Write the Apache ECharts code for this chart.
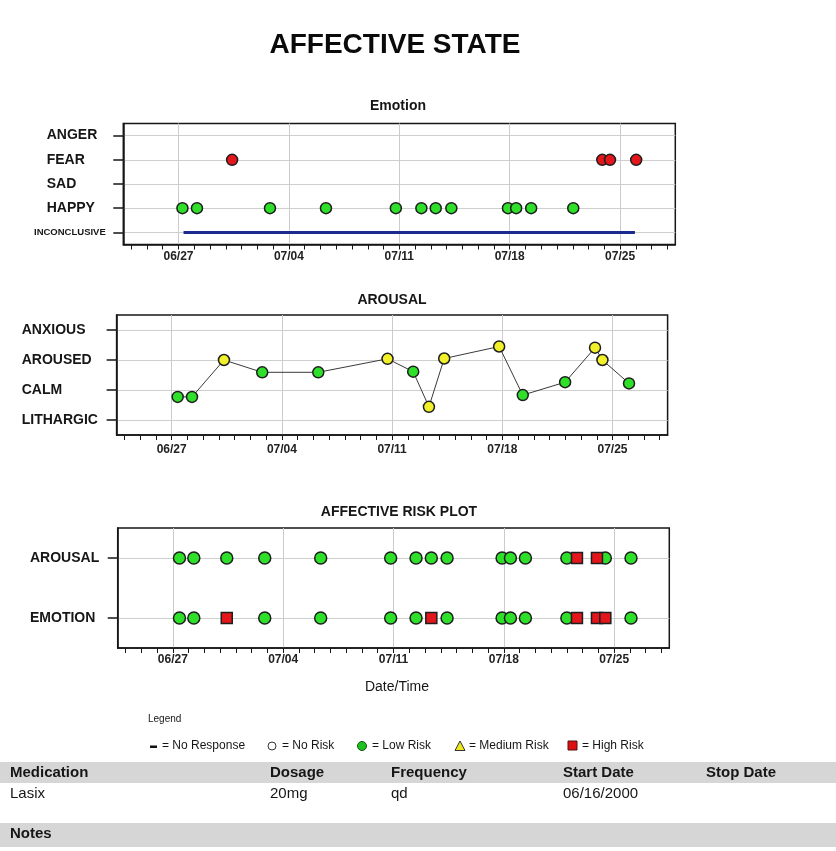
<!DOCTYPE html>
<html><head><meta charset="utf-8">
<script src="https://cdn.jsdelivr.net/npm/echarts@6/dist/echarts.min.js"></script>
<style>html,body{margin:0;padding:0;background:#fff}#c{width:836px;height:851px}</style>
</head><body><div id="c"></div>
<script>
// x values are days after 06/27/2000 (0 = 06/27)
const tickDays = [0, 7, 14, 21, 28];
const tickLabels = ['06/27', '07/04', '07/11', '07/18', '07/25'];

// Emotion chart
const emotionLevels = ['INCONCLUSIVE', 'HAPPY', 'SAD', 'FEAR', 'ANGER'];
const emotionDays = [0.25, 1.17, 3.40, 5.80, 9.35, 13.78, 15.40, 16.31, 17.30, 20.89, 21.41, 22.36, 25.03, 26.87, 27.36, 29.02];
const emotionStates = ['HAPPY', 'HAPPY', 'FEAR', 'HAPPY', 'HAPPY', 'HAPPY', 'HAPPY', 'HAPPY', 'HAPPY', 'HAPPY', 'HAPPY', 'HAPPY', 'HAPPY', 'FEAR', 'FEAR', 'FEAR'];
const emotionRisk = ['Low', 'Low', 'High', 'Low', 'Low', 'Low', 'Low', 'Low', 'Low', 'Low', 'Low', 'Low', 'Low', 'High', 'High', 'High'];
const inconclusiveSpan = [0.32, 28.94];

// Arousal chart (1 = LITHARGIC ... 4 = ANXIOUS)
const arousalLevels = ['LITHARGIC', 'CALM', 'AROUSED', 'ANXIOUS'];
const arousalDays = [0.38, 1.29, 3.32, 5.75, 9.31, 13.71, 15.34, 16.34, 17.31, 20.80, 22.30, 24.99, 26.89, 27.36, 29.05];
const arousalValues = [1.77, 1.77, 3.00, 2.59, 2.59, 3.04, 2.61, 1.44, 3.05, 3.45, 1.83, 2.26, 3.41, 3.00, 2.22];
const arousalRisk = ['Low', 'Low', 'Medium', 'Low', 'Low', 'Medium', 'Low', 'Medium', 'Medium', 'Medium', 'Low', 'Low', 'Medium', 'Medium', 'Low'];

// Affective risk plot
const riskRows = ['EMOTION', 'AROUSAL'];
const riskDays = [0.42, 1.33, 3.42, 5.83, 9.38, 13.82, 15.43, 16.40, 17.40, 20.89, 21.42, 22.37, 25.00, 25.64, 26.91, 27.44, 29.07];
const riskArousal = ['Low', 'Low', 'Low', 'Low', 'Low', 'Low', 'Low', 'Low', 'Low', 'Low', 'Low', 'Low', 'Low', 'High', 'High', 'Low', 'Low'];
const riskEmotion = ['Low', 'Low', 'High', 'Low', 'Low', 'Low', 'Low', 'High', 'Low', 'Low', 'Low', 'Low', 'Low', 'High', 'High', 'High', 'Low'];

const riskColor = { Low: '#2fe02a', Medium: '#f2f02a', High: '#e3161b' };
const FONT = '"Liberation Sans", Arial, Helvetica, sans-serif';
const INK = '#161616';
const dayTicks = [];
for (let d = -3; d <= 31; d++) dayTicks.push(d);

function xAxes(gi, margin) {
  return [
    { type: 'value', gridIndex: gi, min: -3.5, max: 31.5, position: 'bottom',
      axisLine: { show: true, onZero: false, lineStyle: { color: INK, width: 1.5 } },
      axisTick: { show: true, length: 5, customValues: dayTicks, lineStyle: { color: INK, width: 1 } },
      axisLabel: { customValues: tickDays, margin: margin, fontFamily: FONT, fontSize: 12, fontWeight: 'bold', color: '#222',
        formatter: v => { const i = tickDays.indexOf(v); return i >= 0 ? tickLabels[i] : ''; } },
      splitLine: { show: false } },
    { type: 'value', gridIndex: gi, min: -3.5, max: 31.5, position: 'top',
      axisLine: { show: false, onZero: false },
      axisTick: { show: false, customValues: tickDays },
      axisLabel: { show: false, customValues: tickDays },
      splitLine: { show: true, lineStyle: { color: '#cbcbd4', width: 1 } } }
  ];
}

function yAxis(gi, min, max, vals, names, margin, rich, fmt) {
  return { type: 'value', gridIndex: gi, min: min, max: max, position: 'left',
    axisLine: { show: true, onZero: false, lineStyle: { color: INK, width: 1.5 } },
    axisTick: { show: true, length: 10, customValues: vals, lineStyle: { color: INK, width: 1.5 } },
    axisLabel: { customValues: vals, align: 'left', margin: margin, fontFamily: FONT, fontSize: 14, fontWeight: 'bold', color: INK,
      rich: rich, formatter: fmt || (v => names[vals.indexOf(v)]) },
    splitLine: { show: true, lineStyle: { color: '#cfcfcf', width: 1 } } };
}

const emoVals = [0, 1, 2, 3, 4];
const aroVals = [1, 2, 3, 4];
const riskVals = [0, 1];

const chart = echarts.init(document.getElementById('c'), null, { renderer: 'canvas' });

const txt = (x, y, text, font, align, fill) => ({ type: 'text', x: x, y: y, silent: true,
  style: { text: text, font: font, fill: fill || INK, textAlign: align || 'left', textVerticalAlign: 'middle' } });

const option = {
  animation: false,
  backgroundColor: '#ffffff',
  grid: [
    { left: 123.3, top: 123.5, width: 552, height: 121, show: true, borderColor: INK, borderWidth: 1.5, backgroundColor: '#fff', outerBoundsMode: 'none' },
    { left: 116.6, top: 315, width: 551, height: 120, show: true, borderColor: INK, borderWidth: 1.5, backgroundColor: '#fff', outerBoundsMode: 'none' },
    { left: 117.7, top: 528, width: 551.6, height: 120, show: true, borderColor: INK, borderWidth: 1.5, backgroundColor: '#fff', outerBoundsMode: 'none' }
  ],
  xAxis: [].concat(xAxes(0, 6), xAxes(1, 9), xAxes(2, 6)),
  yAxis: [
    yAxis(0, -0.5, 4.5, emoVals, emotionLevels, 89.3,
      { s: { fontFamily: FONT, fontSize: 9.5, fontWeight: 'bold', color: INK },
        p: { fontFamily: FONT, fontSize: 14, width: 12.7 },
        b: { fontFamily: FONT, fontSize: 14, fontWeight: 'bold', color: INK } },
      v => v === 0 ? '{s|' + emotionLevels[0] + '}' : '{p| }{b|' + emotionLevels[v] + '}'),
    yAxis(1, 0.5, 4.5, aroVals, arousalLevels, 94.9),
    yAxis(2, -0.5, 1.5, riskVals, riskRows, 87.7)
  ],
  series: [
    { type: 'line', xAxisIndex: 0, yAxisIndex: 0, silent: true, showSymbol: false, z: 2,
      lineStyle: { color: '#1b2a8f', width: 3 },
      data: [[inconclusiveSpan[0], 0], [inconclusiveSpan[1], 0]] },
    { type: 'scatter', xAxisIndex: 0, yAxisIndex: 0, symbol: 'circle', symbolSize: 11, z: 3,
      itemStyle: { borderColor: '#1e1e1e', borderWidth: 1.5, opacity: 1 },
      data: emotionDays.map((d, i) => ({ value: [d, emotionLevels.indexOf(emotionStates[i])], itemStyle: { color: riskColor[emotionRisk[i]] } })) },
    { type: 'line', xAxisIndex: 2, yAxisIndex: 1, silent: true, showSymbol: false, z: 2,
      lineStyle: { color: '#3a3a3a', width: 1 },
      data: arousalDays.map((d, i) => [d, arousalValues[i]]) },
    { type: 'scatter', xAxisIndex: 2, yAxisIndex: 1, symbol: 'circle', symbolSize: 11, z: 3,
      itemStyle: { borderColor: '#1e1e1e', borderWidth: 1.5, opacity: 1 },
      data: arousalDays.map((d, i) => ({ value: [d, arousalValues[i]], itemStyle: { color: riskColor[arousalRisk[i]] } })) },
    { type: 'scatter', xAxisIndex: 4, yAxisIndex: 2, symbol: 'circle', symbolSize: 12, z: 3,
      itemStyle: { color: riskColor.Low, borderColor: '#1e1e1e', borderWidth: 1.5, opacity: 1 },
      data: [].concat(
        riskDays.filter((d, i) => riskArousal[i] === 'Low').map(d => [d, 1]),
        riskDays.filter((d, i) => riskEmotion[i] === 'Low').map(d => [d, 0])) },
    { type: 'scatter', xAxisIndex: 4, yAxisIndex: 2, symbol: 'rect', symbolSize: 11, z: 4,
      itemStyle: { color: riskColor.High, borderColor: '#1e1e1e', borderWidth: 1.5, opacity: 1 },
      data: [].concat(
        riskDays.filter((d, i) => riskArousal[i] === 'High').map(d => [d, 1]),
        riskDays.filter((d, i) => riskEmotion[i] === 'High').map(d => [d, 0])) }
  ],
  graphic: [
    txt(395, 45, 'AFFECTIVE STATE', 'bold 28px ' + FONT, 'center', '#0a0a0a'),
    txt(398, 106, 'Emotion', 'bold 14px ' + FONT, 'center'),
    txt(392, 300, 'AROUSAL', 'bold 14px ' + FONT, 'center'),
    txt(399, 512, 'AFFECTIVE RISK PLOT', 'bold 14px ' + FONT, 'center'),
    txt(397, 687, 'Date/Time', '14px ' + FONT, 'center'),
    // legend
    txt(148, 719, 'Legend', '10px ' + FONT, 'left'),
    { type: 'rect', silent: true, shape: { x: 150, y: 745.5, width: 7, height: 2.5 }, style: { fill: '#111' } },
    txt(162, 746, '= No Response', '12px ' + FONT, 'left'),
    { type: 'circle', silent: true, shape: { cx: 272, cy: 746, r: 4 }, style: { fill: '#fff', stroke: '#333', lineWidth: 1 } },
    txt(282, 746, '= No Risk', '12px ' + FONT, 'left'),
    { type: 'circle', silent: true, shape: { cx: 362, cy: 746, r: 4.5 }, style: { fill: '#1ec21e', stroke: '#145214', lineWidth: 1 } },
    txt(372, 746, '= Low Risk', '12px ' + FONT, 'left'),
    { type: 'polygon', silent: true, shape: { points: [[455, 750.5], [465, 750.5], [460, 741]] }, style: { fill: '#f0e81e', stroke: '#333', lineWidth: 1 } },
    txt(469, 746, '= Medium Risk', '12px ' + FONT, 'left'),
    { type: 'rect', silent: true, shape: { x: 568, y: 741, width: 9, height: 9 }, style: { fill: '#dd1111', stroke: '#501010', lineWidth: 1 } },
    txt(582, 746, '= High Risk', '12px ' + FONT, 'left'),
    // medication table
    { type: 'rect', silent: true, z: -1, shape: { x: 0, y: 762, width: 836, height: 21 }, style: { fill: '#d6d6d6' } },
    txt(10, 772.5, 'Medication', 'bold 15px ' + FONT),
    txt(270, 772.5, 'Dosage', 'bold 15px ' + FONT),
    txt(391, 772.5, 'Frequency', 'bold 15px ' + FONT),
    txt(563, 772.5, 'Start Date', 'bold 15px ' + FONT),
    txt(706, 772.5, 'Stop Date', 'bold 15px ' + FONT),
    txt(10, 794, 'Lasix', '15px ' + FONT),
    txt(270, 794, '20mg', '15px ' + FONT),
    txt(391, 794, 'qd', '15px ' + FONT),
    txt(563, 794, '06/16/2000', '15px ' + FONT),
    { type: 'rect', silent: true, z: -1, shape: { x: 0, y: 823, width: 836, height: 24 }, style: { fill: '#d6d6d6' } },
    txt(10, 834, 'Notes', 'bold 15px ' + FONT)
  ]
};
chart.setOption(option);
</script>
</body></html>
